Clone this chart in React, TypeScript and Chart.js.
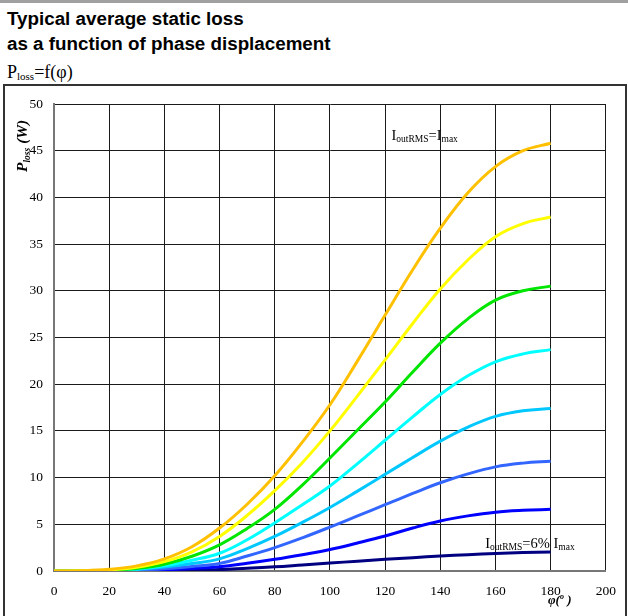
import React, { useEffect, useRef } from 'react';
import { Chart, registerables } from 'chart.js';

Chart.register(...registerables);

// ---- data ----
const phaseDeg = [0, 10, 20, 30, 40, 50, 60, 70, 80, 90, 100, 110, 120, 130, 140, 150, 160, 170, 180];

const lossImax = [0, 0.03, 0.18, 0.55, 1.3, 2.6, 4.6, 7.15, 10.2, 13.8, 17.8, 22.5, 27.4, 32.25, 36.7, 40.5, 43.3, 45.0, 45.8];
const lossLevel2 = [0, 0.02, 0.12, 0.4, 1.0, 2.05, 3.7, 5.95, 8.6, 11.6, 15.0, 18.75, 22.6, 26.5, 30.2, 33.3, 35.8, 37.2, 37.9];
const lossLevel3 = [0, 0.01, 0.08, 0.28, 0.73, 1.58, 2.8, 4.55, 6.6, 9.2, 12.1, 15.1, 18.1, 21.3, 24.4, 27.0, 29.0, 30.0, 30.5];
const lossLevel4 = [0, 0.01, 0.06, 0.22, 0.57, 1.15, 1.9, 3.35, 5.15, 7.1, 9.1, 11.5, 14.0, 16.5, 18.9, 20.9, 22.4, 23.25, 23.7];
const lossLevel5 = [0, 0.01, 0.05, 0.17, 0.42, 0.8, 1.3, 2.4, 3.7, 5.2, 6.8, 8.55, 10.35, 12.15, 13.9, 15.4, 16.55, 17.15, 17.4];
const lossLevel6 = [0, 0.005, 0.03, 0.1, 0.25, 0.48, 0.8, 1.6, 2.5, 3.55, 4.7, 5.9, 7.1, 8.3, 9.45, 10.4, 11.15, 11.55, 11.75];
const lossLevel7 = [0, 0, 0.015, 0.05, 0.13, 0.27, 0.45, 0.82, 1.25, 1.75, 2.3, 3.0, 3.75, 4.6, 5.35, 5.9, 6.3, 6.5, 6.6];
const loss6pct = [0, 0, 0.01, 0.02, 0.04, 0.08, 0.15, 0.3, 0.45, 0.65, 0.85, 1.05, 1.25, 1.43, 1.6, 1.75, 1.88, 1.97, 2.03];

const seriesValues = [lossImax, lossLevel2, lossLevel3, lossLevel4, lossLevel5, lossLevel6, lossLevel7, loss6pct];
const seriesColors = ['#FFC000', '#FFFF00', '#00E600', '#00FFFF', '#00C8FF', '#3366FF', '#0000FF', '#000080'];

const xTickValues = [0, 20, 40, 60, 80, 100, 120, 140, 160, 180, 200];
const yTickValues = [0, 5, 10, 15, 20, 25, 30, 35, 40, 45, 50];

// annotation anchors in data units
const labelTop = { x: 122.3, y: 46.1 };
const labelBottom = { x: 156.3, y: 2.5 };

const SERIF = '"Liberation Serif", "Times New Roman", serif';

type Part = { t: string; sub?: boolean; sup?: boolean };

function drawRich(ctx: CanvasRenderingContext2D, x: number, y: number, parts: Part[], mainFont: string, smallFont: string, subDy: number, supDy: number) {
  let cx = x;
  for (const p of parts) {
    ctx.font = p.sub || p.sup ? smallFont : mainFont;
    const dy = p.sub ? subDy : p.sup ? supDy : 0;
    ctx.fillText(p.t, cx, y + dy);
    cx += ctx.measureText(p.t).width;
  }
}

const textPlugin = {
  id: 'textPlugin',
  afterDraw(chart: any) {
    const ctx: CanvasRenderingContext2D = chart.ctx;
    const xs = chart.scales.x;
    const ys = chart.scales.y;
    ctx.save();
    ctx.fillStyle = '#000';
    ctx.textAlign = 'left';
    ctx.textBaseline = 'alphabetic';
    const main = `14.5px ${SERIF}`;
    const small = `9.5px ${SERIF}`;
    drawRich(ctx, xs.getPixelForValue(labelTop.x), ys.getPixelForValue(labelTop.y),
      [{ t: 'I' }, { t: 'outRMS', sub: true }, { t: '=I' }, { t: 'max', sub: true }], main, small, 2, 0);
    drawRich(ctx, xs.getPixelForValue(labelBottom.x), ys.getPixelForValue(labelBottom.y),
      [{ t: 'I' }, { t: 'outRMS', sub: true }, { t: '=6% I' }, { t: 'max', sub: true }], main, small, 2, 0);

    // x axis title
    drawRich(ctx, 548, 604, [{ t: 'φ(' }, { t: 'o', sup: true }, { t: ' )' }],
      `italic bold 13px ${SERIF}`, `italic bold 8px ${SERIF}`, 0, -5);

    // y axis title (rotated)
    ctx.translate(27, 172);
    ctx.rotate(-Math.PI / 2);
    drawRich(ctx, 0, 0, [{ t: 'P' }, { t: 'loss', sub: true }, { t: ' (W)' }],
      `italic bold 15.5px ${SERIF}`, `italic bold 9.5px ${SERIF}`, 3, 0);
    ctx.restore();
  },
};

export default function App() {
  const canvasRef = useRef<HTMLCanvasElement | null>(null);

  useEffect(() => {
    const canvas = canvasRef.current;
    if (!canvas) return;
    const chart = new Chart(canvas, {
      type: 'line',
      data: {
        datasets: seriesValues.map((vals, i) => ({
          label: `s${i}`,
          data: vals.map((v, j) => ({ x: phaseDeg[j], y: v })),
          borderColor: seriesColors[i],
          backgroundColor: seriesColors[i],
          borderWidth: 3,
          pointRadius: 0,
          fill: false,
          tension: 0.4,
        })),
      },
      options: {
        animation: false,
        responsive: false,
        devicePixelRatio: 1,
        layout: { padding: { left: 10, right: 20, top: 104, bottom: 0 } },
        plugins: { legend: { display: false }, tooltip: { enabled: false }, title: { display: false } },
        scales: {
          x: {
            type: 'linear',
            min: 0,
            max: 200,
            afterBuildTicks: (s: any) => { s.ticks = xTickValues.map((v) => ({ value: v })); },
            afterFit: (s: any) => { s.height = 45; },
            ticks: { color: '#000', font: { family: SERIF, size: 13.5 }, padding: 12, maxRotation: 0, autoSkip: false },
            grid: { color: '#1a1a1a', lineWidth: 1, drawTicks: false },
            border: { color: '#777', width: 2 },
          },
          y: {
            type: 'linear',
            min: 0,
            max: 50,
            afterBuildTicks: (s: any) => { s.ticks = yTickValues.map((v) => ({ value: v })); },
            afterFit: (s: any) => { s.width = 44; },
            ticks: { color: '#000', font: { family: SERIF, size: 13.5 }, padding: 11, autoSkip: false },
            grid: { color: '#1a1a1a', lineWidth: 1, drawTicks: false },
            border: { color: '#777', width: 2 },
          },
        },
      },
      plugins: [textPlugin],
    });
    return () => chart.destroy();
  }, []);

  return (
    <div style={{ position: 'fixed', left: 0, top: 0, width: 628, height: 616, overflow: 'hidden', background: '#fff' }}>
      <div style={{ position: 'absolute', left: 0, top: 0, width: 628, height: 3, background: '#a0a0a0' }} />
      <div style={{ position: 'absolute', left: 7, top: 10, font: 'bold 18.8px "Liberation Sans", Arial, sans-serif', lineHeight: '18.8px', whiteSpace: 'nowrap', color: '#000' }}>
        Typical average static loss
      </div>
      <div style={{ position: 'absolute', left: 7, top: 35, font: 'bold 18.8px "Liberation Sans", Arial, sans-serif', lineHeight: '18.8px', whiteSpace: 'nowrap', color: '#000' }}>
        as a function of phase displacement
      </div>
      <div style={{ position: 'absolute', left: 7, top: 63, font: `18px ${SERIF}`, lineHeight: '18px', whiteSpace: 'nowrap', color: '#000' }}>
        P<span style={{ fontSize: 11, verticalAlign: '-2px', lineHeight: 0 }}>loss</span>=f(φ)
      </div>
      <div style={{ position: 'absolute', left: 3, top: 84, width: 624, height: 700, boxSizing: 'border-box', border: '2px solid #333' }} />
      <canvas ref={canvasRef} width={628} height={616} style={{ position: 'absolute', left: 0, top: 0 }} />
    </div>
  );
}
